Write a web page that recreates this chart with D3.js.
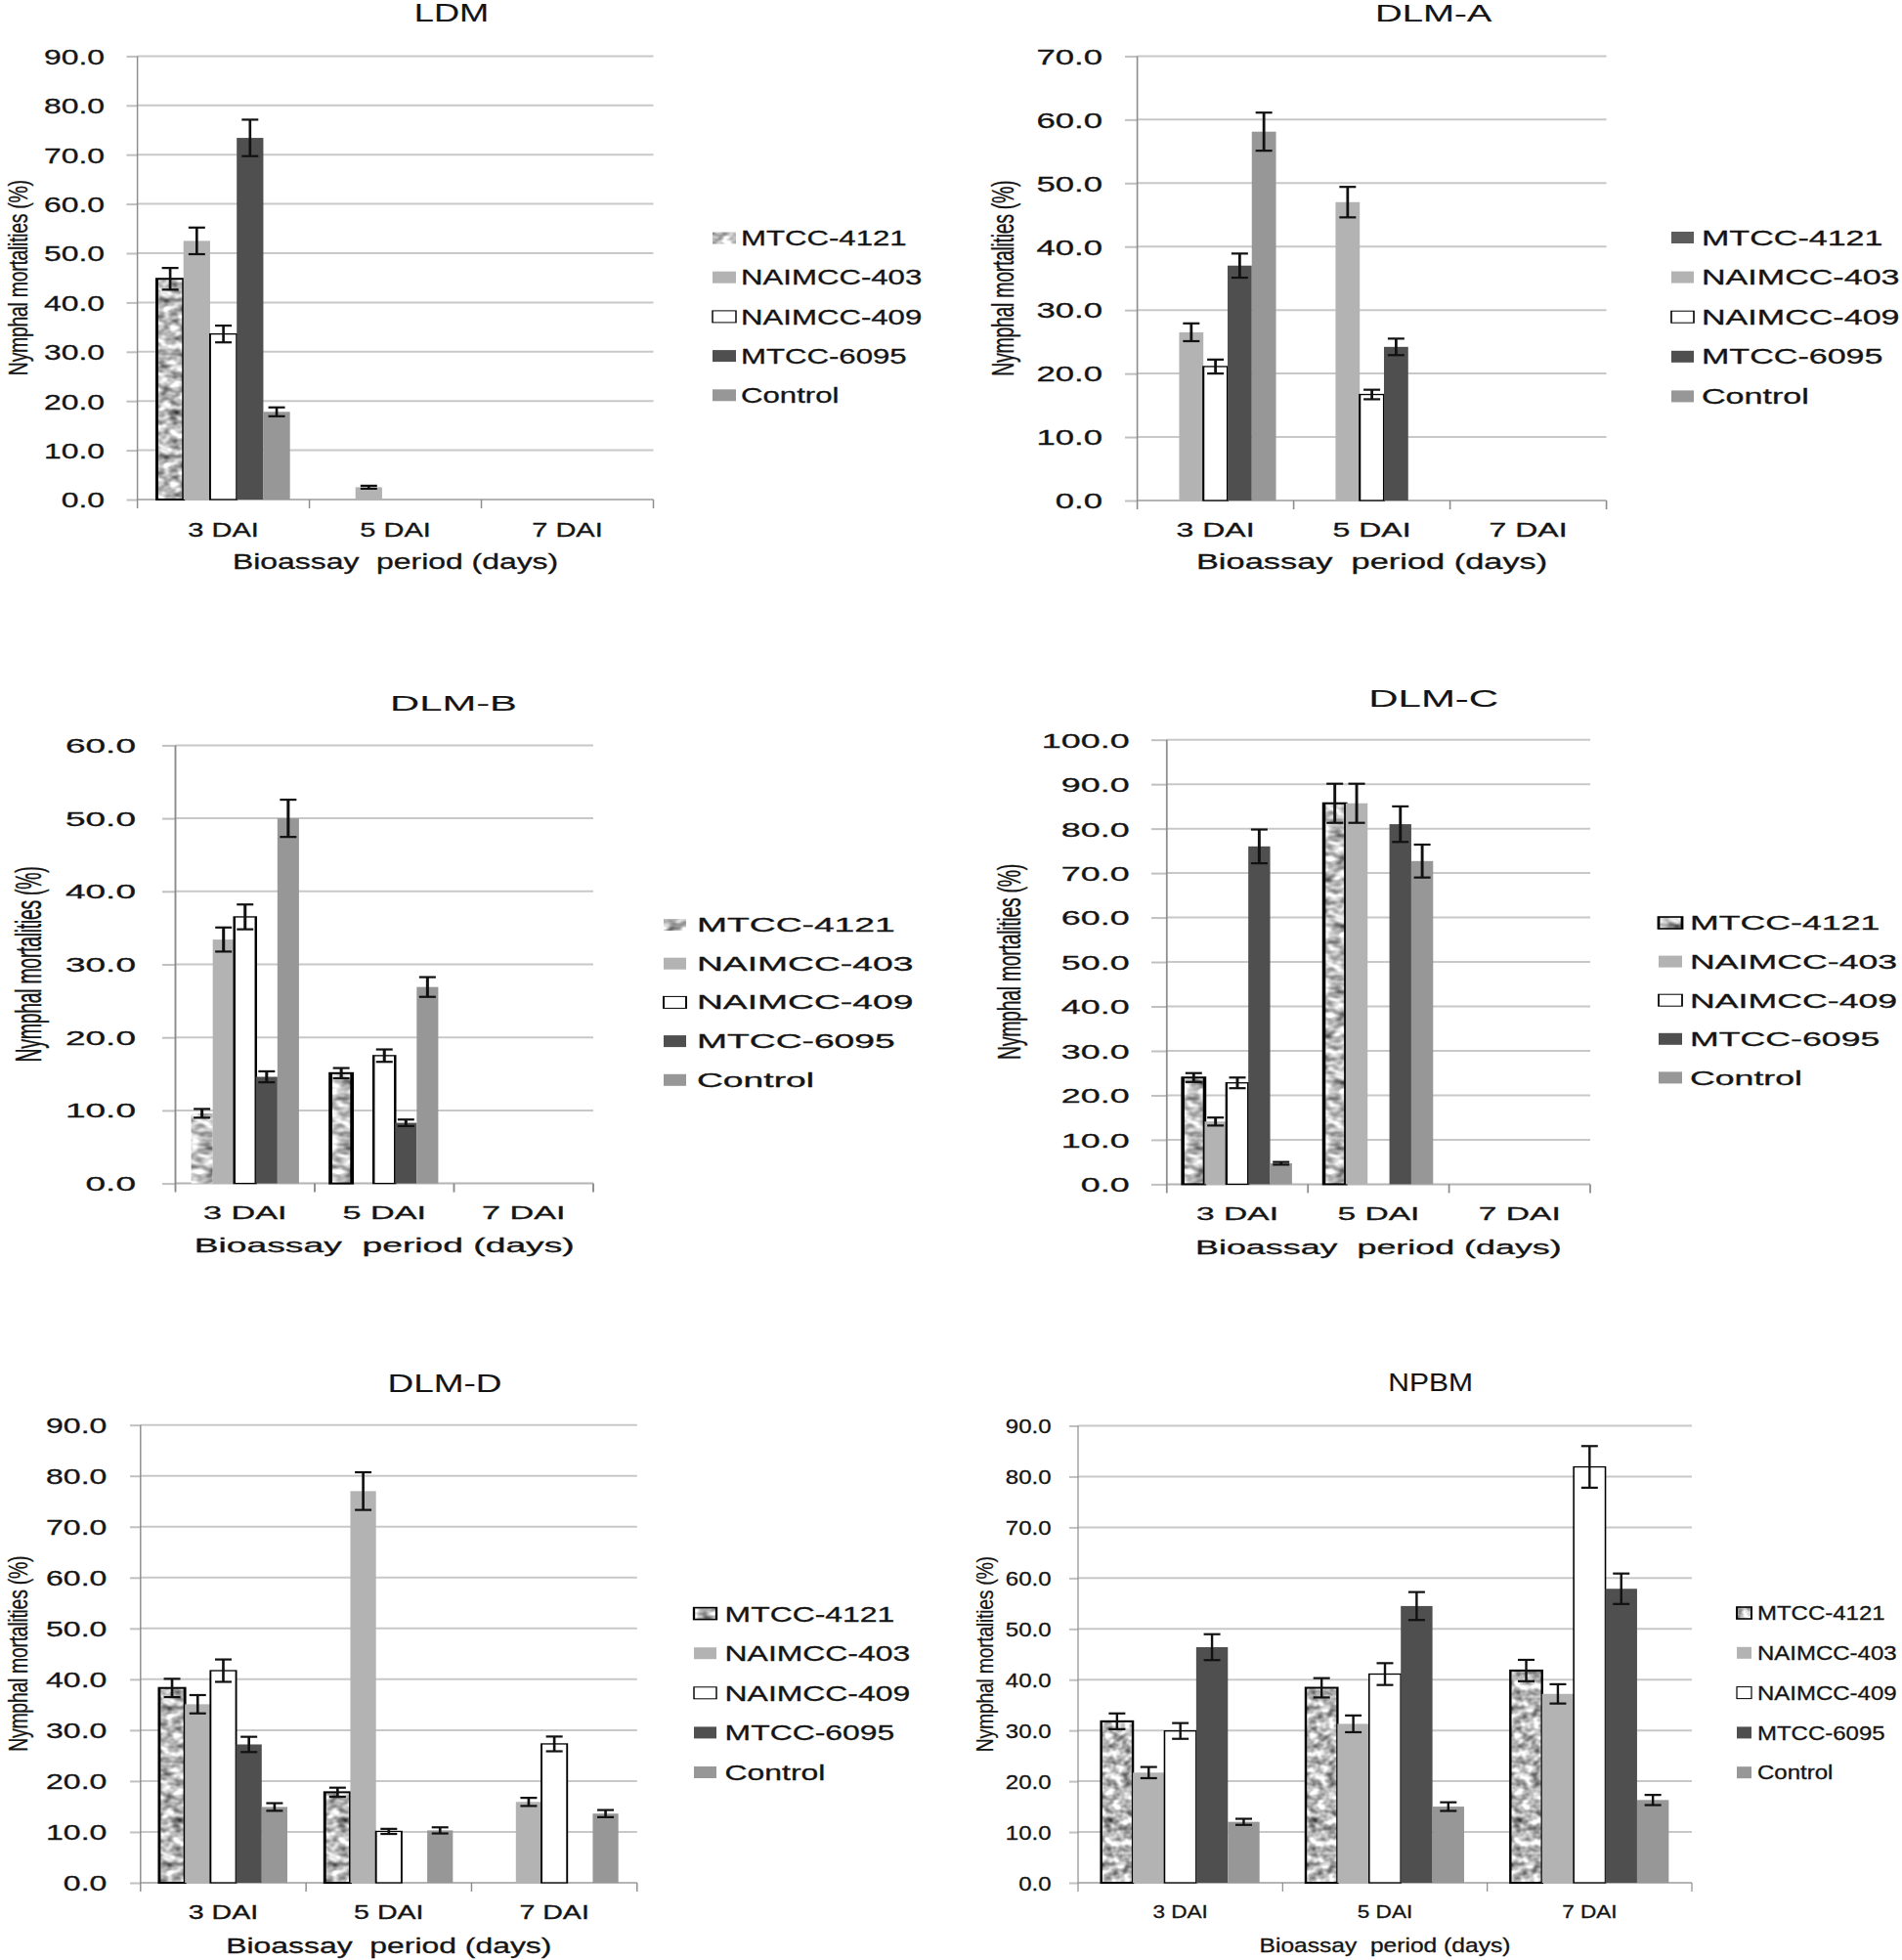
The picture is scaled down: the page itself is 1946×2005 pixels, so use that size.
<!DOCTYPE html>
<html>
<head>
<meta charset="utf-8">
<script src="https://cdn.jsdelivr.net/npm/d3@7"></script>
<style>
  html, body { margin: 0; padding: 0; background: #fff; }
  svg { display: block; }
  text { font-family: "Liberation Sans", Arial, sans-serif; fill: #141414; stroke: #141414; stroke-width: 0.3; }
</style>
</head>
<body>
<svg id="chart" width="1946" height="2005"></svg>
<script>
// ---------------- data ----------------
const categories = ["3 DAI", "5 DAI", "7 DAI"];
const seriesNames = ["MTCC-4121", "NAIMCC-403", "NAIMCC-409", "MTCC-6095", "Control"];
const yAxisTitle = "Nymphal mortalities (%)";
const xAxisTitle = "Bioassay  period (days)";

const ticks60 = [0, 10, 20, 30, 40, 50, 60];
const ticks70 = [0, 10, 20, 30, 40, 50, 60, 70];
const ticks90 = [0, 10, 20, 30, 40, 50, 60, 70, 80, 90];
const ticks100 = [0, 10, 20, 30, 40, 50, 60, 70, 80, 90, 100];

// rows = series (MTCC-4121, NAIMCC-403, NAIMCC-409, MTCC-6095, Control); columns = 3, 5, 7 DAI
const ldmMeans  = [[44.8, 0, 0], [52.5, 2.5, 0], [33.6, 0, 0], [73.4, 0, 0], [17.8, 0, 0]];
const ldmErrors = [[2.2, 0, 0], [2.7, 0.3, 0], [1.7, 0, 0], [3.7, 0, 0], [0.9, 0, 0]];

const dlmAMeans  = [[0, 0, 0], [26.5, 47.0, 0], [21.1, 16.7, 0], [37.0, 24.2, 0], [58.1, 0, 0]];
const dlmAErrors = [[0, 0, 0], [1.4, 2.4, 0], [1.1, 0.75, 0], [1.9, 1.3, 0], [3.0, 0, 0]];

const dlmBMeans  = [[9.6, 15.1, 0], [33.4, 0, 0], [36.5, 17.5, 0], [14.6, 8.3, 0], [50.0, 26.9, 0]];
const dlmBErrors = [[0.6, 0.7, 0], [1.65, 0, 0], [1.7, 0.85, 0], [0.75, 0.45, 0], [2.55, 1.35, 0]];

const dlmCMeans  = [[24.0, 85.7, 0], [14.1, 85.7, 0], [22.8, 0, 0], [76.0, 81.0, 0], [4.7, 72.7, 0]];
const dlmCErrors = [[1.0, 4.4, 0], [0.9, 4.4, 0], [1.2, 0, 0], [3.8, 4.0, 0], [0.3, 3.7, 0]];

const dlmDMeans  = [[38.3, 17.8, 0], [35.1, 77.0, 15.9], [41.7, 10.1, 27.3], [27.2, 0, 0], [14.9, 10.3, 13.6]];
const dlmDErrors = [[1.8, 0.9, 0], [1.8, 3.7, 0.8], [2.2, 0.5, 1.45], [1.5, 0, 0], [0.75, 0.6, 0.7]];

const npbmMeans  = [[31.8, 38.4, 41.8], [21.7, 31.3, 37.2], [29.9, 41.1, 81.9], [46.4, 54.5, 57.9], [12.0, 15.0, 16.3]];
const npbmErrors = [[1.55, 1.9, 2.1], [1.1, 1.65, 1.9], [1.55, 2.15, 4.1], [2.55, 2.75, 3.0], [0.6, 0.85, 1.0]];

// ---------------- styles / layout ----------------
const seriesFill = ["url(#granite)", "#b3b3b3", "#ffffff", "#4f4f4f", "#979797"];

const panels = [
  { title: "LDM", means: ldmMeans, errors: ldmErrors, ticks: ticks90,
    sx: 1.45, x0: 140.6, x1: 668.5, yTop: 57.4, yBot: 511, tickStart: 129.5, labelRight: 107,
    titleX: 462, titleY: 13, catY: 541.5, axisTitleY: 574, yTitleX: 18,
    legSwX: 729, legSwW: 24, legTextX: 758, legY0: 243.5, legDy: 40.2,
    fTick: 22, fLeg: 21.5, fCat: 20, fAxis: 22, fTitle: 25,
    legendTex: "plain", texBorder: [1, 1, 1] },
  { title: "DLM-A", means: dlmAMeans, errors: dlmAErrors, ticks: ticks70,
    sx: 1.6, x0: 1163.6, x1: 1643.6, yTop: 57.4, yBot: 512, tickStart: 1151, labelRight: 1128,
    titleX: 1466.7, titleY: 13.4, catY: 541.5, axisTitleY: 574, yTitleX: 1026,
    legSwX: 1710, legSwW: 23, legTextX: 1741, legY0: 243, legDy: 40.6,
    fTick: 21.7, fLeg: 21.3, fCat: 20, fAxis: 21.5, fTitle: 24,
    legendTex: "solid", texBorder: [0, 0, 0] },
  { title: "DLM-B", means: dlmBMeans, errors: dlmBErrors, ticks: ticks60,
    sx: 1.9, x0: 179.5, x1: 607, yTop: 762.4, yBot: 1210.6, tickStart: 166, labelRight: 139,
    titleX: 464, titleY: 718.8, catY: 1241, axisTitleY: 1274, yTitleX: 29,
    legSwX: 679, legSwW: 23, legTextX: 713, legY0: 946, legDy: 39.7,
    fTick: 19.5, fLeg: 19.6, fCat: 18, fAxis: 19.6, fTitle: 22,
    legendTex: "plain", texBorder: [0, 1, 0] },
  { title: "DLM-C", means: dlmCMeans, errors: dlmCErrors, ticks: ticks100,
    sx: 1.75, x0: 1193.8, x1: 1627, yTop: 756.7, yBot: 1211.4, tickStart: 1178, labelRight: 1155.6,
    titleX: 1466.7, titleY: 714.7, catY: 1241, axisTitleY: 1276, yTitleX: 1032,
    legSwX: 1697, legSwW: 24, legTextX: 1729, legY0: 944, legDy: 39.6,
    fTick: 20.5, fLeg: 20.4, fCat: 19.2, fAxis: 20.5, fTitle: 24,
    legendTex: "border", texBorder: [1, 1, 1] },
  { title: "DLM-D", means: dlmDMeans, errors: dlmDErrors, ticks: ticks90,
    sx: 1.45, x0: 143.8, x1: 651.8, yTop: 1457.7, yBot: 1926, tickStart: 133, labelRight: 109.4,
    titleX: 455, titleY: 1415, catY: 1956, axisTitleY: 1990, yTitleX: 18,
    legSwX: 710, legSwW: 23, legTextX: 741.6, legY0: 1650.6, legDy: 40.6,
    fTick: 22.1, fLeg: 22, fCat: 19.7, fAxis: 22, fTitle: 25.5,
    legendTex: "border", texBorder: [1, 1, 1] },
  { title: "NPBM", means: npbmMeans, errors: npbmErrors, ticks: ticks90,
    sx: 1.2, x0: 1103, x1: 1731, yTop: 1458.5, yBot: 1926, tickStart: 1094, labelRight: 1075.5,
    titleX: 1463.7, titleY: 1414, catY: 1955, axisTitleY: 1990, yTitleX: 1008,
    legSwX: 1777, legSwW: 15, legTextX: 1798, legY0: 1650, legDy: 40.8,
    fTick: 20, fLeg: 20, fCat: 18.8, fAxis: 20.5, fTitle: 25,
    legendTex: "border", texBorder: [1, 1, 1] }
];

// ---------------- drawing ----------------
const svg = d3.select("#chart");
svg.append("rect").attr("width", 1946).attr("height", 2005).attr("fill", "#fff");

const defs = svg.append("defs");
const filt = defs.append("filter").attr("id", "graniteF")
  .attr("x", 0).attr("y", 0).attr("width", 1).attr("height", 1)
  .attr("color-interpolation-filters", "sRGB");
filt.append("feTurbulence").attr("type", "fractalNoise").attr("baseFrequency", 0.13)
  .attr("numOctaves", 2).attr("seed", 7).attr("stitchTiles", "stitch");
filt.append("feColorMatrix").attr("type", "matrix")
  .attr("values", "-1.35 0 0 0 1.42  -1.35 0 0 0 1.42  -1.35 0 0 0 1.42  0 0 0 0 1");
const pat = defs.append("pattern").attr("id", "granite")
  .attr("patternUnits", "userSpaceOnUse").attr("width", 160).attr("height", 160);
pat.append("rect").attr("width", 160).attr("height", 160).attr("filter", "url(#graniteF)");

const fmt = d3.format(".1f");

function drawPanel(p) {
  const X = v => v / p.sx;
  const g = svg.append("g").attr("transform", `scale(${p.sx},1)`);

  const xCat = d3.scaleBand().domain(categories).range([X(p.x0), X(p.x1)]).paddingInner(0).paddingOuter(0);
  const cw = xCat.bandwidth();
  const pad = cw * (1 - 0.774) / 2;
  const xSer = d3.scaleBand().domain(seriesNames).range([pad, cw - pad]).paddingInner(0);
  const y = d3.scaleLinear().domain([0, d3.max(p.ticks)]).range([p.yBot, p.yTop]);

  // gridlines
  g.append("g").selectAll("line").data(p.ticks).join("line")
    .attr("x1", X(p.x0)).attr("x2", X(p.x1))
    .attr("y1", d => y(d)).attr("y2", d => y(d))
    .attr("stroke", d => d === 0 ? "#b4b4b4" : "#c8c8c8").attr("stroke-width", 2);

  // y axis (ticks + labels)
  const yAx = g.append("g").attr("transform", `translate(${X(p.x0)},0)`)
    .call(d3.axisLeft(y).tickValues(p.ticks).tickFormat(fmt)
      .tickSize(X(p.x0 - p.tickStart)).tickPadding(X(p.tickStart - p.labelRight)));
  yAx.select(".domain").remove();
  yAx.selectAll(".tick line").attr("stroke", "#c0c0c0").attr("stroke-width", 2);
  yAx.selectAll(".tick text").attr("font-size", p.fTick).attr("fill", "#141414")
    .attr("font-family", '"Liberation Sans", Arial, sans-serif').attr("dy", "0.36em");
  g.append("line").attr("x1", X(p.x0)).attr("x2", X(p.x0))
    .attr("y1", p.yTop).attr("y2", p.yBot + 9)
    .attr("stroke", "#8c8c8c").attr("stroke-width", 1);

  // x axis boundary ticks
  const bounds = categories.map(c => xCat(c)).concat([xCat(categories[categories.length - 1]) + cw]);
  g.append("g").selectAll("line").data(bounds.slice(1)).join("line")
    .attr("x1", d => d).attr("x2", d => d).attr("y1", p.yBot).attr("y2", p.yBot + 9)
    .attr("stroke", "#8c8c8c").attr("stroke-width", 1);

  // x axis labels
  const xAx = g.append("g").attr("transform", `translate(0,${p.yBot})`)
    .call(d3.axisBottom(xCat).tickSize(0).tickPadding(0));
  xAx.select(".domain").remove();
  xAx.selectAll(".tick text").attr("font-size", p.fCat).attr("fill", "#141414")
    .attr("font-family", '"Liberation Sans", Arial, sans-serif')
    .attr("y", p.catY - p.yBot).attr("dy", "0.36em");

  // bars
  categories.forEach((cat, ci) => {
    const cg = g.append("g").attr("transform", `translate(${xCat(cat)},0)`);
    seriesNames.forEach((s, si) => {
      const v = p.means[si][ci];
      if (!v) return;
      const bx = xSer(s), bw = xSer.bandwidth();
      const r = cg.append("rect").attr("x", bx).attr("width", bw)
        .attr("y", y(v)).attr("height", y(0) - y(v)).attr("fill", seriesFill[si]);
      if (si === 2) r.attr("stroke", "#000").attr("stroke-width", 1.3);
      if (si === 0 && p.texBorder[ci]) {
        cg.append("rect").attr("x", bx).attr("width", bw)
          .attr("y", y(v)).attr("height", y(0) - y(v))
          .attr("fill", "none").attr("stroke", "#000").attr("stroke-width", 2);
      }
    });
    // error bars
    seriesNames.forEach((s, si) => {
      const v = p.means[si][ci], e = p.errors[si][ci];
      if (!v || !e) return;
      const cx = xSer(s) + xSer.bandwidth() / 2;
      const hw = 8.5 / p.sx;
      const eg = cg.append("g").attr("stroke", "#111").attr("stroke-width", 2.2);
      eg.append("line").attr("x1", cx).attr("x2", cx).attr("y1", y(v + e)).attr("y2", y(v - e))
        .attr("stroke-width", 2.2 / Math.sqrt(p.sx));
      eg.append("line").attr("x1", cx - hw).attr("x2", cx + hw).attr("y1", y(v + e)).attr("y2", y(v + e));
      eg.append("line").attr("x1", cx - hw).attr("x2", cx + hw).attr("y1", y(v - e)).attr("y2", y(v - e));
    });
  });

  // titles
  g.append("text").attr("x", X(p.titleX)).attr("y", p.titleY).attr("dy", "0.36em")
    .attr("text-anchor", "middle").attr("font-size", p.fTitle).style("stroke-width", 0.1).text(p.title);
  g.append("text").attr("x", X((p.x0 + p.x1) / 2)).attr("y", p.axisTitleY).attr("dy", "0.36em")
    .attr("text-anchor", "middle").attr("font-size", p.fAxis)
    .style("white-space", "pre").text(xAxisTitle);
  g.append("text").attr("transform", `translate(${X(p.yTitleX)},${(p.yTop + p.yBot) / 2}) rotate(-90)`)
    .attr("dy", "0.36em").attr("text-anchor", "middle").attr("font-size", 19.5)
    .attr("letter-spacing", -0.3).style("stroke-width", 0.2).text(yAxisTitle);

  // legend
  const lg = g.append("g");
  seriesNames.forEach((s, si) => {
    const ly = p.legY0 + si * p.legDy;
    const sw = lg.append("rect").attr("x", X(p.legSwX)).attr("y", ly - 6)
      .attr("width", X(p.legSwW)).attr("height", 12);
    if (si === 0) {
      if (p.legendTex === "solid") sw.attr("fill", "#5c5c5c");
      else {
        sw.attr("fill", "url(#granite)");
        if (p.legendTex === "border") sw.attr("stroke", "#000").attr("stroke-width", 1.6);
      }
    } else {
      sw.attr("fill", seriesFill[si]);
      if (si === 2) sw.attr("stroke", "#000").attr("stroke-width", 1);
    }
    lg.append("text").attr("x", X(p.legTextX)).attr("y", ly).attr("dy", "0.36em")
      .attr("font-size", p.fLeg).text(s);
  });
}

panels.forEach(drawPanel);
</script>
</body>
</html>
